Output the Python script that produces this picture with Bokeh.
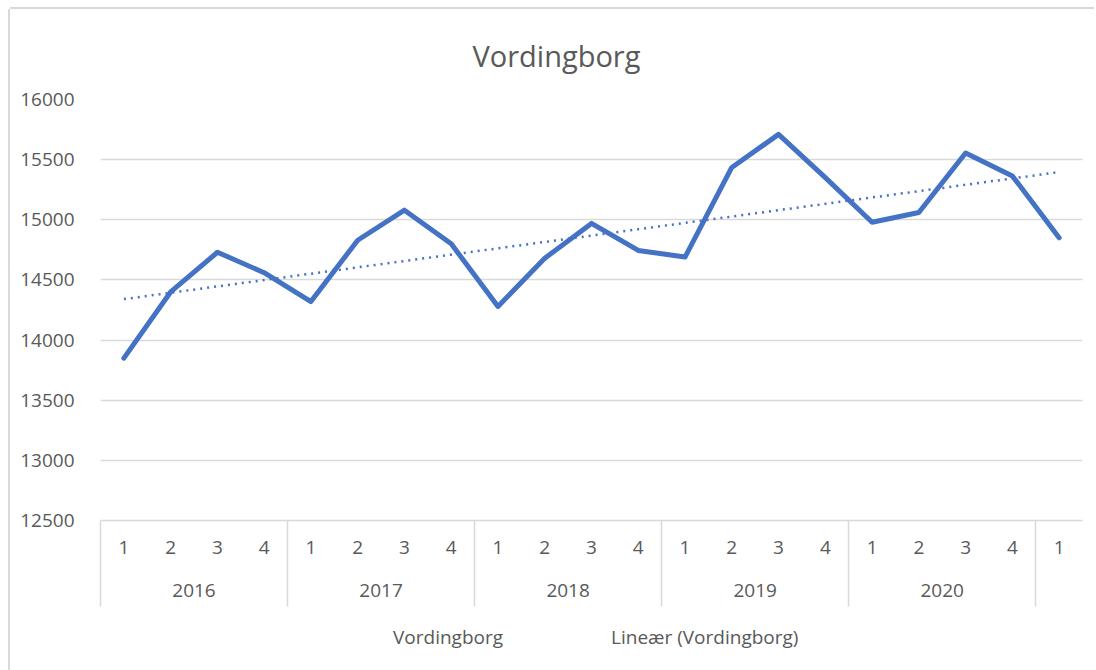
import numpy as np
from bokeh.plotting import figure
from bokeh.layouts import column
from bokeh.models import (Range1d, FixedTicker, LinearAxis, Legend, LegendItem,
                          ColumnDataSource)
from bokeh.embed import file_html
from bokeh.resources import INLINE

# ---- data ----
title_text = "Vordingborg"
series_name = "Vordingborg"
trend_name = "Lineær (Vordingborg)"
year_labels = ["2016", "2017", "2018", "2019", "2020"]
quarters_per_year = [4, 4, 4, 4, 4]
quarter_labels = ["1", "2", "3", "4", "1", "2", "3", "4", "1", "2", "3", "4",
                  "1", "2", "3", "4", "1", "2", "3", "4", "1"]
values = [13850, 14400, 14730, 14560,
          14320, 14830, 15080, 14800,
          14280, 14680, 14970, 14745,
          14690, 15435, 15710, 15350,
          14980, 15060, 15555, 15365,
          14850]
y_ticks = [12500, 13000, 13500, 14000, 14500, 15000, 15500, 16000]

TEXT = "#595959"
GRID = "#d9d9d9"
BLUE = "#4472c4"
FONT = "Open Sans"

n = len(values)
x = np.arange(n) + 0.5
slope, intercept = np.polyfit(np.arange(n), values, 1)
trend = slope * np.arange(n) + intercept

src = ColumnDataSource(dict(x=x, y=values, t=trend))

p = figure(frame_width=982, frame_height=421, output_backend="svg",
           toolbar_location=None, x_range=Range1d(0, n),
           y_range=Range1d(y_ticks[0], y_ticks[-1]),
           x_axis_location=None, y_axis_location=None,
           min_border_left=90, min_border_right=12, min_border_top=90,
           min_border_bottom=96)
p.margin = (9, 0, 0, 10)
p.styles = {"box-shadow": "-2px 0 0 0 #d9d9d9, 0 -2px 0 0 #d9d9d9"}
p.outline_line_color = None
p.background_fill_color = "white"
p.border_fill_color = "white"

p.title.text = title_text
p.title.align = "left"
p.title.offset = 372
p.title.standoff = 49
p.title.text_font = FONT
p.title.text_font_size = "29px"
p.title.text_font_style = "normal"
p.title.text_color = TEXT

# y axis
yax = LinearAxis(ticker=FixedTicker(ticks=y_ticks))
yax.axis_line_color = None
yax.major_tick_line_color = None
yax.minor_tick_line_color = None
yax.major_label_text_font = FONT
yax.major_label_text_font_size = "19px"
yax.major_label_text_color = TEXT
yax.major_label_standoff = 20
p.add_layout(yax, "left")

# grid
p.xgrid.visible = False
p.ygrid.grid_line_color = GRID
p.ygrid.grid_line_width = 1.5
p.ygrid.ticker = FixedTicker(ticks=y_ticks)

bounds = [0]
for c in quarters_per_year:
    bounds.append(bounds[-1] + c)

# quarter axis; group separators are its minor ticks
qax = LinearAxis(ticker=FixedTicker(ticks=list(x), minor_ticks=bounds))
qax.major_label_overrides = {float(xx): q for xx, q in zip(x, quarter_labels)}
qax.axis_line_color = GRID
qax.axis_line_width = 1.5
qax.major_tick_line_color = None
qax.major_tick_out = 0
qax.major_tick_in = 0
qax.minor_tick_line_color = GRID
qax.minor_tick_line_width = 1.5
qax.minor_tick_in = 0
qax.minor_tick_out = 86
qax.major_label_text_font = FONT
qax.major_label_text_font_size = "19px"
qax.major_label_text_color = TEXT
qax.major_label_standoff = -66
p.add_layout(qax, "below")

# year axis
centers = [(bounds[i] + bounds[i + 1]) / 2 for i in range(len(year_labels))]
yrax = LinearAxis(ticker=FixedTicker(ticks=centers, minor_ticks=[]))
yrax.major_label_overrides = {float(c): yl for c, yl in zip(centers, year_labels)}
yrax.axis_line_color = None
yrax.major_tick_line_color = None
yrax.minor_tick_line_color = None
yrax.major_tick_out = 0
yrax.major_tick_in = 0
yrax.minor_tick_out = 0
yrax.minor_tick_in = 0
yrax.major_label_text_font = FONT
yrax.major_label_text_font_size = "19px"
yrax.major_label_text_color = TEXT
yrax.major_label_standoff = 27
p.add_layout(yrax, "below")

p.line("x", "y", source=src, line_color=BLUE, line_width=5,
       line_join="round", line_cap="round")
p.line("x", "t", source=src, line_color=BLUE, line_width=2.5, line_dash="2 5")

# legend strip below the chart
lg = figure(frame_width=982, frame_height=54, output_backend="svg",
            toolbar_location=None, x_range=Range1d(0, 1), y_range=Range1d(0, 1),
            x_axis_location=None, y_axis_location=None,
            min_border_left=90, min_border_right=12, min_border_top=0,
            min_border_bottom=0)
lg.margin = (0, 0, 0, 10)
lg.styles = {"box-shadow": "-2px 0 0 0 #d9d9d9"}
lg.outline_line_color = None
lg.background_fill_color = "white"
lg.border_fill_color = "white"
for g in lg.grid:
    g.visible = False
k1 = lg.line([], [], line_color=BLUE, line_width=5, line_cap="round")
k2 = lg.line([], [], line_color=BLUE, line_width=2.5, line_dash="2 5")

legend = Legend(items=[LegendItem(label=series_name, renderers=[k1]),
                       LegendItem(label=trend_name, renderers=[k2])],
                orientation="horizontal", location=(223, 20))
legend.border_line_color = None
legend.background_fill_color = None
legend.label_text_font = FONT
legend.label_text_font_size = "19px"
legend.label_text_color = TEXT
legend.glyph_width = 64
legend.label_standoff = 6
legend.spacing = 38
legend.padding = 0
legend.margin = 0
lg.add_layout(legend)

layout = column(p, lg, spacing=0)
open("out.html", "w").write(file_html(layout, INLINE))
